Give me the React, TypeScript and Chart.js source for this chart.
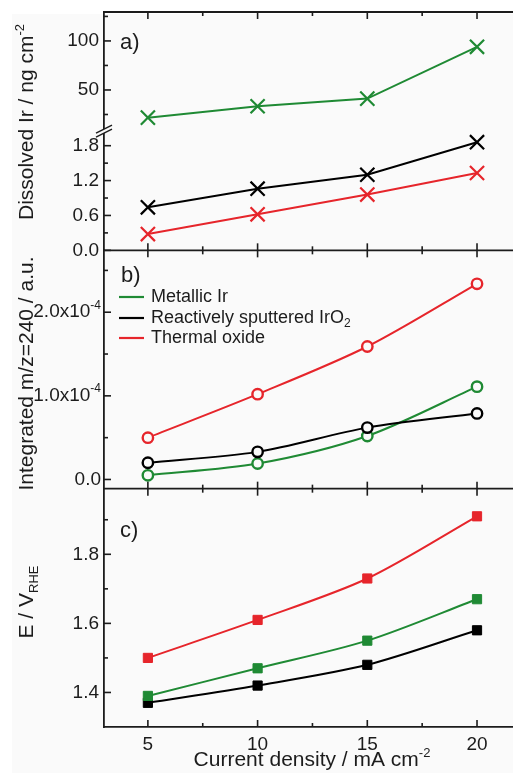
import React, { useEffect, useRef } from 'react';
import { Chart, registerables } from 'chart.js';

Chart.register(...registerables);

const FONT = "'Liberation Sans', Arial, sans-serif";
const GREEN = '#1f8a34';
const RED = '#e6252b';
const BLACK = '#000000';
const AXIS = '#1c1c1c';
const TEXT = '#1c1c1c';
const BG = '#fafafa';

// x categories
const currentDensity = [5, 10, 15, 20];
const xTicks = [5, 10, 15, 20];
const xMinorTicks = [7.5, 12.5, 17.5];

// series names
const seriesLabels = ['Metallic Ir', 'Reactively sputtered IrO', 'Thermal oxide'];
const seriesLabelSubscripts = ['', '2', ''];

// panel a: dissolved Ir / ng cm-2
const dissolvedMetallic = [21.8, 33.4, 41.2, 94];
const dissolvedSputtered = [0.74, 1.06, 1.3, 1.86];
const dissolvedThermal = [0.28, 0.62, 0.96, 1.33];
const dissolvedUpperTicks = [50, 100];
const dissolvedUpperMinor = [25, 75, 125];
const dissolvedLowerTicks = [0, 0.6, 1.2, 1.8];
const dissolvedLowerMinor = [0.3, 0.9, 1.5];

// panel b: integrated m/z=240 / a.u.
const integratedMetallic = [0.05e-4, 0.19e-4, 0.52e-4, 1.11e-4];
const integratedSputtered = [0.2e-4, 0.33e-4, 0.62e-4, 0.79e-4];
const integratedThermal = [0.5e-4, 1.02e-4, 1.59e-4, 2.34e-4];
const integratedTicks = [0, 1e-4, 2e-4];
const integratedTickLabels = ['0.0', '1.0x10', '2.0x10'];
const integratedTickExponents = ['', '-4', '-4'];
const integratedMinor = [0.5e-4, 1.5e-4, 2.5e-4];

// panel c: E / V_RHE
const potentialMetallic = [1.39, 1.47, 1.55, 1.67];
const potentialSputtered = [1.37, 1.42, 1.48, 1.58];
const potentialThermal = [1.5, 1.61, 1.73, 1.91];
const potentialTicks = [1.4, 1.6, 1.8];
const potentialMinor = [1.5, 1.7, 1.9];

const LEFT = 104;
const XAXIS_H = 46;
const TICK_FONT = 19;
const TITLE_FONT = 21;

const toPoints = (vals: number[]) => currentDensity.map((x, i) => ({ x, y: vals[i] }));

type Part = { t: string; s: number; dy: number };

function partsWidth(ctx: CanvasRenderingContext2D, parts: Part[]) {
  let w = 0;
  for (const p of parts) {
    ctx.font = `${p.s}px ${FONT}`;
    w += ctx.measureText(p.t).width;
  }
  return w;
}
function drawParts(ctx: CanvasRenderingContext2D, parts: Part[], x: number, y: number) {
  let cx = x;
  for (const p of parts) {
    ctx.font = `${p.s}px ${FONT}`;
    ctx.fillText(p.t, cx, y + p.dy);
    cx += ctx.measureText(p.t).width;
  }
}

const yScale = (
  min: number,
  max: number,
  ticks: number[],
  weight: number,
  stackWeight: number,
  decimals: number,
  showLabels: boolean
) => ({
  type: 'linear',
  position: 'left',
  stack: 'panels',
  stackWeight,
  weight,
  min,
  max,
  afterBuildTicks: (s: any) => {
    s.ticks = ticks.map((v) => ({ value: v }));
  },
  afterFit: (s: any) => {
    s.width = LEFT;
    s.paddingTop = 0;
    s.paddingBottom = 0;
  },
  grid: { display: true, drawOnChartArea: false, drawTicks: false },
  border: { display: true, color: AXIS, width: 1.8 },
  ticks: {
    display: showLabels,
    autoSkip: false,
    padding: 5,
    color: TEXT,
    font: { family: FONT, size: TICK_FONT },
    callback: (v: any) => Number(v).toFixed(decimals),
  },
});

const bgPlugin = {
  id: 'bg',
  beforeDraw(chart: any) {
    const { ctx, width, height } = chart;
    ctx.save();
    ctx.fillStyle = '#ffffff';
    ctx.fillRect(0, 0, width, height);
    ctx.fillStyle = BG;
    ctx.fillRect(12, 14, width - 12, height - 14);
    ctx.restore();
  },
};

const framePlugin = {
  id: 'frame',
  afterDraw(chart: any) {
    const { ctx, chartArea } = chart;
    const L = chartArea.left;
    const R = chartArea.right;
    const sx = chart.scales.x;
    const sA1 = chart.scales.yA1;
    const sA2 = chart.scales.yA2;
    const sB = chart.scales.yB;
    const sC = chart.scales.yC;
    ctx.save();
    ctx.strokeStyle = AXIS;
    ctx.lineWidth = 1.8;
    const line = (x1: number, y1: number, x2: number, y2: number) => {
      ctx.beginPath();
      ctx.moveTo(x1, y1);
      ctx.lineTo(x2, y2);
      ctx.stroke();
    };
    // horizontal frame lines
    for (const y of [chartArea.top, sB.top, sC.top]) line(L - 0.9, y, R, y);

    // x tick marks on each panel edge (dir: +1 down into panel, -1 up into panel)
    const edges: [number, number][] = [
      [chartArea.top, 1],
      [sA2.bottom, -1],
      [sB.top, 1],
      [sB.bottom, -1],
      [sC.top, 1],
      [sC.bottom, -1],
    ];
    ctx.lineWidth = 1.6;
    for (const [y, dir] of edges) {
      for (const v of xTicks) {
        const px = sx.getPixelForValue(v);
        line(px, y, px, y + dir * 7);
      }
      for (const v of xMinorTicks) {
        const px = sx.getPixelForValue(v);
        line(px, y, px, y + dir * 4);
      }
    }
    // y tick marks
    const yt: [any, number[], number[]][] = [
      [sA1, dissolvedUpperTicks, dissolvedUpperMinor],
      [sA2, dissolvedLowerTicks, dissolvedLowerMinor],
      [sB, integratedTicks, integratedMinor],
      [sC, potentialTicks, potentialMinor],
    ];
    for (const [s, maj, min] of yt) {
      for (const v of maj) {
        const py = s.getPixelForValue(v);
        line(L, py, L + 7, py);
      }
      for (const v of min) {
        const py = s.getPixelForValue(v);
        if (py < s.top - 0.5 || py > s.bottom + 0.5) continue;
        line(L, py, L + 4, py);
      }
    }
    // axis break symbol
    const yb = sA1.bottom;
    ctx.fillStyle = BG;
    ctx.beginPath();
    ctx.moveTo(L - 8, yb + 2);
    ctx.lineTo(L + 8, yb - 6);
    ctx.lineTo(L + 8, yb - 2);
    ctx.lineTo(L - 8, yb + 6);
    ctx.closePath();
    ctx.fill();
    ctx.lineWidth = 1.5;
    line(L - 8, yb + 2, L + 8, yb - 6);
    line(L - 8, yb + 6, L + 8, yb - 2);

    ctx.fillStyle = TEXT;
    // panel b tick labels with exponents
    ctx.textBaseline = 'middle';
    integratedTicks.forEach((v, i) => {
      const py = sB.getPixelForValue(v);
      const parts: Part[] = [{ t: integratedTickLabels[i], s: TICK_FONT, dy: 0 }];
      if (integratedTickExponents[i]) parts.push({ t: integratedTickExponents[i], s: 12, dy: -7 });
      const w = partsWidth(ctx, parts);
      drawParts(ctx, parts, L - 3 - w, py);
    });

    // panel labels
    ctx.font = `22px ${FONT}`;
    ctx.textBaseline = 'middle';
    ctx.fillText('a)', 120, 43);
    ctx.fillText('b)', 121, 276);
    ctx.fillText('c)', 120, 531);

    // legend
    const legendColors = [GREEN, BLACK, RED];
    const legendY = [297, 318, 338];
    seriesLabels.forEach((lab, i) => {
      ctx.strokeStyle = legendColors[i];
      ctx.lineWidth = 2.2;
      line(119, legendY[i], 144, legendY[i]);
      const parts: Part[] = [{ t: lab, s: 18, dy: 0 }];
      if (seriesLabelSubscripts[i]) parts.push({ t: seriesLabelSubscripts[i], s: 12, dy: 6 });
      ctx.fillStyle = TEXT;
      drawParts(ctx, parts, 151, legendY[i]);
    });

    // axis titles
    ctx.textBaseline = 'alphabetic';
    const xTitle: Part[] = [
      { t: 'Current density / mA cm', s: TITLE_FONT, dy: 0 },
      { t: '-2', s: 13, dy: -9 },
    ];
    const xw = partsWidth(ctx, xTitle);
    drawParts(ctx, xTitle, 312 - xw / 2, 766);

    const yTitles: [Part[], number][] = [
      [
        [
          { t: 'Dissolved Ir / ng cm', s: TITLE_FONT, dy: 0 },
          { t: '-2', s: 13, dy: -9 },
        ],
        122,
      ],
      [[{ t: 'Integrated m/z=240 / a.u.', s: TITLE_FONT, dy: 0 }], (sB.top + sB.bottom) / 2 + 4],
      [
        [
          { t: 'E / V', s: TITLE_FONT, dy: 0 },
          { t: 'RHE', s: 13, dy: 5 },
        ],
        602,
      ],
    ];
    for (const [parts, cy] of yTitles) {
      const w = partsWidth(ctx, parts);
      ctx.save();
      ctx.translate(33, cy);
      ctx.rotate(-Math.PI / 2);
      drawParts(ctx, parts, -w / 2, 0);
      ctx.restore();
    }
    ctx.restore();
  },
};

export default function App() {
  const ref = useRef<HTMLCanvasElement>(null);
  useEffect(() => {
    const canvas = ref.current;
    if (!canvas) return;
    const crossDs = (vals: number[], color: string, yAxisID: string) => ({
      data: toPoints(vals),
      yAxisID,
      xAxisID: 'x',
      borderColor: color,
      backgroundColor: color,
      borderWidth: 2,
      pointStyle: 'crossRot',
      pointRadius: 10,
      pointBorderWidth: 2.2,
      pointBorderColor: color,
      tension: 0,
    });
    const circleDs = (vals: number[], color: string) => ({
      data: toPoints(vals),
      yAxisID: 'yB',
      xAxisID: 'x',
      borderColor: color,
      backgroundColor: color,
      borderWidth: 2,
      pointStyle: 'circle',
      pointRadius: 5.2,
      pointBorderWidth: 2.4,
      pointBorderColor: color,
      pointBackgroundColor: BG,
      tension: 0.3,
    });
    const squareDs = (vals: number[], color: string) => ({
      data: toPoints(vals),
      yAxisID: 'yC',
      xAxisID: 'x',
      borderColor: color,
      backgroundColor: color,
      borderWidth: 2,
      pointStyle: 'rect',
      pointRadius: 6.5,
      pointBorderWidth: 1,
      pointBorderColor: color,
      pointBackgroundColor: color,
      tension: 0.3,
    });
    const chart = new Chart(canvas, {
      type: 'line',
      data: {
        datasets: [
          crossDs(dissolvedThermal, RED, 'yA2'),
          crossDs(dissolvedSputtered, BLACK, 'yA2'),
          crossDs(dissolvedMetallic, GREEN, 'yA1'),
          circleDs(integratedThermal, RED),
          circleDs(integratedSputtered, BLACK),
          circleDs(integratedMetallic, GREEN),
          squareDs(potentialThermal, RED),
          squareDs(potentialMetallic, GREEN),
          squareDs(potentialSputtered, BLACK),
        ] as any,
      },
      options: {
        responsive: false,
        maintainAspectRatio: false,
        devicePixelRatio: 1,
        animation: false,
        layout: { autoPadding: false, padding: { top: 12, left: 0, right: 0, bottom: 0 } },
        plugins: { legend: { display: false }, tooltip: { enabled: false } },
        scales: {
          x: {
            type: 'linear',
            position: 'bottom',
            min: 3,
            max: 21.64,
            afterBuildTicks: (s: any) => {
              s.ticks = xTicks.map((v) => ({ value: v }));
            },
            afterFit: (s: any) => {
              s.height = XAXIS_H;
              s.paddingLeft = 0;
              s.paddingRight = 0;
            },
            grid: { display: true, drawOnChartArea: false, drawTicks: false },
            border: { display: true, color: AXIS, width: 1.8 },
            ticks: {
              autoSkip: false,
              maxRotation: 0,
              padding: 6,
              color: TEXT,
              font: { family: FONT, size: TICK_FONT },
              callback: (v: any) => String(v),
            },
          },
          yC: yScale(1.3, 1.99, potentialTicks, 1, 2, 1, true),
          yB: yScale(-0.11e-4, 2.74e-4, integratedTicks, 2, 2, 1, false),
          yA2: yScale(0, 2.05, dissolvedLowerTicks, 3, 1, 1, true),
          yA1: yScale(8, 129.5, dissolvedUpperTicks, 4, 1, 0, true),
        } as any,
      },
      plugins: [bgPlugin, framePlugin],
    });
    return () => chart.destroy();
  }, []);
  return (
    <div style={{ position: 'absolute', left: 0, top: 0, width: 513, height: 773, overflow: 'hidden' }}>
      <canvas ref={ref} width={513} height={773} style={{ display: 'block', width: 513, height: 773 }} />
    </div>
  );
}
